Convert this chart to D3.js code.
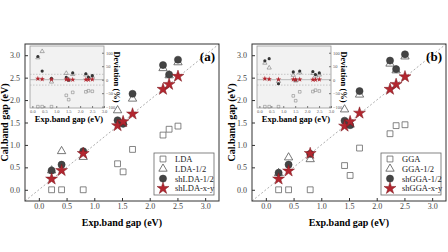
<!DOCTYPE html>
<html>
<head>
<meta charset="utf-8">
<script src="https://cdn.jsdelivr.net/npm/d3@7"></script>
<style>
  body { margin: 0; background: #fff; }
  svg { display: block; font-family: "Liberation Serif", "Times New Roman", serif; }
</style>
</head>
<body>
<svg id="chart" width="448" height="252"></svg>
<script>
// experimental band gaps (shared x values)
const expGap = [0.23, 0.41, 0.80, 1.42, 1.52, 1.69, 2.24, 2.35, 2.51];

// panel (a) calculated gaps
const lda      = [0, 0, 0, 0.58, 0.40, 0.90, 1.22, 1.35, 1.42];
const lda12    = [0.43, 0.86, 0.73, 1.77, 1.50, 2.03, 2.71, 2.55, 2.84];
const shLda12  = [0.43, 0.56, 0.86, 1.55, 1.47, 2.14, 2.78, 2.57, 2.90];
const shLdaXY  = [0.24, 0.43, 0.81, 1.43, 1.52, 1.69, 2.24, 2.35, 2.53];

// panel (b) calculated gaps
const gga      = [0, 0, 0, 0.54, 0.32, 0.93, 1.25, 1.43, 1.45];
const gga12    = [0.37, 0.72, 0.68, 1.79, 1.45, 2.12, 2.81, 2.66, 2.97];
const shGga12  = [0.38, 0.56, 0.80, 1.54, 1.44, 2.20, 2.88, 2.69, 3.02];
const shGgaXY  = [0.24, 0.42, 0.81, 1.42, 1.52, 1.71, 2.24, 2.35, 2.52];

// inset deviations (%)
const devLda     = [-100, -100, -100, -58, -74, -47, -45, -41, -43];
const devLda12   = [82, 105, -8, 24, 1, 20, 18, 7, 12];
const devShLda12 = [86, 32, 5, 9, -2, 25, 22, 9, 15];
const devShLdaXY = [4, 2, 1, 1, 0, 0, 0, 0, 1];
const devGga     = [-100, -100, -100, -60, -78, -45, -44, -39, -42];
const devGga12   = [62, 44, -6, 17, -4, 26, 24, 14, 18];
const devShGga12 = [70, 78, -15, 29, -1, 32, 30, 19, 25];
const devShGgaXY = [4, 2, 1, 1, 0, 1, 0, 0, 1];

const mainTicks = [0.0, 0.5, 1.0, 1.5, 2.0, 2.5, 3.0];
const insetXTicks = [0.0, 0.5, 1.0, 1.5, 2.0, 2.5, 3.0];
const insetYTicks = [-100, -50, 0, 50, 100];

const panels = [
  { tag: "(a)", left: 25, names: ["LDA", "LDA-1/2", "shLDA-1/2", "shLDA-x-y"],
    series: [lda, lda12, shLda12, shLdaXY],
    dev: [devLda, devLda12, devShLda12, devShLdaXY] },
  { tag: "(b)", left: 252, names: ["GGA", "GGA-1/2", "shGGA-1/2", "shGGA-x-y"],
    series: [gga, gga12, shGga12, shGgaXY],
    dev: [devGga, devGga12, devShGga12, devShGgaXY] }
];

const svg = d3.select("#chart");
const axisColor = "#333";
const red = "#b3262f";

// marker styles: square, triangle, circle, star
const styles = [
  { type: d3.symbolSquare,   size: 34, fill: "none", stroke: "#666", sw: 0.8 },
  { type: d3.symbolTriangle, size: 30, fill: "none", stroke: "#555", sw: 0.8 },
  { type: d3.symbolCircle,   size: 40, fill: "#444", stroke: "#333", sw: 0.5 },
  { type: d3.symbolStar,     size: 44, fill: red,    stroke: "#7a1a20", sw: 0.5 }
];

panels.forEach(p => {
  const width = 194, top = 44, bottom = 201;
  const g = svg.append("g");

  const x = d3.scaleLinear().domain([-0.25, 3.25]).range([p.left, p.left + width]);
  const y = d3.scaleLinear().domain([-0.25, 3.25]).range([bottom, top]);

  // diagonal reference line
  g.append("line")
    .attr("x1", x(-0.25)).attr("y1", y(-0.25))
    .attr("x2", x(3.25)).attr("y2", y(3.25))
    .attr("stroke", "#999").attr("stroke-width", 0.8)
    .attr("stroke-dasharray", "2,2");

  // axes (ticks inward)
  const xAxis = g.append("g")
    .attr("transform", `translate(0,${bottom})`)
    .call(d3.axisBottom(x).tickValues(mainTicks).tickFormat(d3.format(".1f"))
      .tickSizeInner(-3).tickSizeOuter(0).tickPadding(2.5));
  const yAxis = g.append("g")
    .attr("transform", `translate(${p.left},0)`)
    .call(d3.axisLeft(y).tickValues(mainTicks).tickFormat(d3.format(".1f"))
      .tickSizeInner(-3).tickSizeOuter(0).tickPadding(5));
  [xAxis, yAxis].forEach(a => {
    a.selectAll(".domain").remove();
    a.selectAll("line").attr("stroke", axisColor);
    a.selectAll("text").attr("fill", "#444").style("font-size", "8px")
      .style("font-family", "'Liberation Serif', serif");
  });

  // frame
  g.append("rect")
    .attr("x", p.left).attr("y", top)
    .attr("width", width).attr("height", bottom - top)
    .attr("fill", "none").attr("stroke", axisColor).attr("stroke-width", 1);

  // axis titles
  g.append("text")
    .attr("x", x(1.5)).attr("y", 226)
    .attr("text-anchor", "middle")
    .style("font-size", "10px").style("font-weight", "bold")
    .text("Exp.band gap (eV)");
  g.append("text")
    .attr("transform", `translate(${p.left - 17},${y(1.5)}) rotate(-90)`)
    .attr("text-anchor", "middle")
    .style("font-size", "10px").style("font-weight", "bold")
    .text("Cal.band gap (eV)");

  // panel tag
  g.append("text")
    .attr("x", p.left + width - 4).attr("y", 61)
    .attr("text-anchor", "end")
    .style("font-size", "13px").style("font-weight", "bold")
    .text(p.tag);

  // data markers
  p.series.forEach((vals, i) => {
    const s = styles[i];
    g.append("g").selectAll("path")
      .data(vals)
      .join("path")
        .attr("transform", (d, j) => `translate(${x(expGap[j])},${y(d)})`)
        .attr("d", d3.symbol().type(s.type).size(s.size))
        .attr("fill", s.fill).attr("stroke", s.stroke).attr("stroke-width", s.sw);
  });

  // legend
  const lx = p.left + 129, ly = 153;
  g.append("rect")
    .attr("x", lx).attr("y", ly).attr("width", 60).attr("height", 42)
    .attr("fill", "#fff").attr("stroke", "#666").attr("stroke-width", 0.8);
  p.names.forEach((name, i) => {
    const s = styles[i];
    const yy = ly + 6 + i * 9.8;
    g.append("path")
      .attr("transform", `translate(${lx + 9},${yy})`)
      .attr("d", d3.symbol().type(s.type).size(s.size))
      .attr("fill", s.fill).attr("stroke", s.stroke).attr("stroke-width", s.sw);
    g.append("text")
      .attr("x", lx + 21).attr("y", yy + 3)
      .style("font-size", "8.5px").attr("fill", "#222")
      .text(name);
  });

  // ---- inset ----
  const il = p.left + 5, iw = 74, it = 46, ib = 108;
  const ix = d3.scaleLinear().domain([-0.1, 3.0]).range([il, il + iw]);
  const iy = d3.scaleLinear().domain([-105, 125]).range([ib, it]);
  const ig = g.append("g");

  ig.append("rect")
    .attr("x", il).attr("y", it).attr("width", iw).attr("height", ib - it)
    .attr("fill", "#f2f2f2").attr("stroke", "#999").attr("stroke-width", 0.8);

  ig.append("line")
    .attr("x1", il).attr("x2", il + iw).attr("y1", iy(0)).attr("y2", iy(0))
    .attr("stroke", "#aaa").attr("stroke-width", 0.8);
  [20, -20].forEach(v => {
    ig.append("line")
      .attr("x1", il).attr("x2", il + iw).attr("y1", iy(v)).attr("y2", iy(v))
      .attr("stroke", "#aaa").attr("stroke-width", 0.6)
      .attr("stroke-dasharray", "1.5,1.5");
  });

  const ixAxis = ig.append("g")
    .attr("transform", `translate(0,${ib})`)
    .call(d3.axisBottom(ix).tickValues(insetXTicks).tickFormat(d3.format(".1f"))
      .tickSizeInner(-2).tickSizeOuter(0).tickPadding(2));
  const iyAxis = ig.append("g")
    .attr("transform", `translate(${il + iw},0)`)
    .call(d3.axisRight(iy).tickValues(insetYTicks)
      .tickSizeInner(-2).tickSizeOuter(0).tickPadding(2));
  [ixAxis, iyAxis].forEach(a => {
    a.selectAll(".domain").remove();
    a.selectAll("line").attr("stroke", "#777");
    a.selectAll("text").attr("fill", "#555").style("font-size", "4.5px")
      .style("font-family", "'Liberation Serif', serif");
  });

  ig.append("text")
    .attr("x", il + iw / 2 + 2).attr("y", 122)
    .attr("text-anchor", "middle")
    .style("font-size", "8.5px").style("font-weight", "bold")
    .text("Exp.band gap (eV)");
  ig.append("text")
    .attr("transform", `translate(${il + iw + 10},${iy(10)}) rotate(90)`)
    .attr("text-anchor", "middle")
    .style("font-size", "8.5px").style("font-weight", "bold")
    .text("Deviation (%)");

  const insetStyles = [
    { type: d3.symbolSquare,   size: 7,  fill: "none", stroke: "#777", sw: 0.5 },
    { type: d3.symbolTriangle, size: 8,  fill: "none", stroke: "#666", sw: 0.5 },
    { type: d3.symbolCircle,   size: 8,  fill: "#333", stroke: "none", sw: 0 },
    { type: d3.symbolStar,     size: 9,  fill: red,    stroke: "none", sw: 0 }
  ];
  p.dev.forEach((vals, i) => {
    const s = insetStyles[i];
    ig.append("g").selectAll("path")
      .data(vals)
      .join("path")
        .attr("transform", (d, j) => `translate(${ix(expGap[j])},${iy(d)})`)
        .attr("d", d3.symbol().type(s.type).size(s.size))
        .attr("fill", s.fill).attr("stroke", s.stroke).attr("stroke-width", s.sw);
  });
});
</script>
</body>
</html>
